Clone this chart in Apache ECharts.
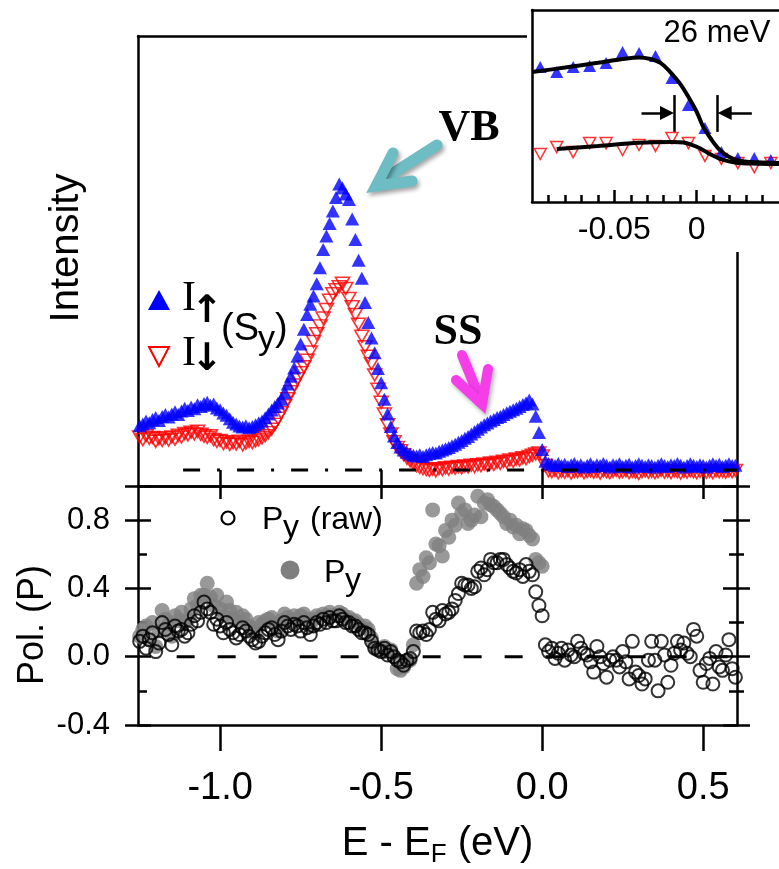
<!DOCTYPE html>
<html>
<head>
<meta charset="utf-8">
<script src="https://cdn.jsdelivr.net/npm/echarts@6/dist/echarts.min.js"></script>
<style>
  html, body { margin: 0; padding: 0; background: #ffffff; }
  #chart { width: 779px; height: 869px; }
</style>
</head>
<body>
<div id="chart"></div>
<script>
// ---- energy grid of the spin-resolved spectra (eV, relative to E_F) ----
const E_START = -1.25;
const E_STEP = 0.01;

// spin-up intensity I↑ (arb. units), one value per grid point
const intensityUp = [
  10.2, 10.6, 11.3, 10.9, 11.6, 12.1, 11.4, 12.3, 12.8, 12.2,
  12.9, 13.4, 12.8, 13.6, 14.2, 13.7, 14.5, 14.1, 15.0, 14.6,
  15.3, 15.6, 14.9, 15.2, 14.3, 13.9, 13.1, 12.6, 11.8, 11.0,
  10.6, 10.1, 9.9, 10.2, 9.7, 10.0, 10.4, 10.9, 11.3, 12.0,
  12.9, 13.8, 14.6, 15.4, 16.3, 17.8, 19.8, 21.6, 23.5, 26.2,
  29.0, 32.4, 35.8, 38.2, 40.1, 42.9, 46.6, 50.8, 53.9, 56.8,
  59.7, 62.8, 65.9, 65.0, 63.6, 62.3, 57.8, 53.1, 48.3, 44.2,
  38.6, 34.0, 30.4, 27.0, 23.4, 20.1, 16.3, 12.9, 10.0, 7.8,
  6.3, 5.3, 4.6, 4.1, 3.7, 3.4, 3.2, 3.5, 3.1, 3.5,
  3.8, 4.0, 3.9, 4.3, 4.6, 4.9, 5.2, 5.6, 5.9, 6.4,
  6.8, 7.3, 7.7, 8.3, 8.8, 9.4, 9.9, 10.4, 10.8, 11.3,
  11.6, 12.1, 12.3, 12.8, 13.2, 13.5, 13.9, 14.2, 14.6, 15.1,
  15.5, 16.1, 15.2, 12.4, 8.6, 4.7, 2.0, 1.5, 1.3, 1.0,
  1.5, 1.0, 1.3, 0.8, 1.2, 1.5, 0.9, 1.2, 0.7, 1.1,
  1.4, 0.8, 1.2, 1.0, 1.5, 1.1, 0.7, 1.2, 1.0, 1.4,
  0.8, 1.1, 1.3, 0.7, 1.0, 1.4, 1.1, 0.8, 1.2, 1.0,
  0.7, 1.1, 1.4, 1.0, 0.8, 1.2, 1.0, 1.5, 1.1, 0.7,
  1.0, 1.4, 1.1, 0.8, 1.2, 1.0, 0.7, 1.1, 1.4, 1.0,
  1.3, 0.8, 1.1, 1.4, 1.0, 1.1
];

// spin-down intensity I↓ (arb. units)
const intensityDown = [
  7.6, 7.0, 7.9, 7.3, 7.5, 6.6, 7.2, 6.8, 7.4, 6.9,
  7.6, 7.1, 8.0, 7.6, 8.4, 8.1, 8.7, 8.3, 8.9, 8.2,
  7.8, 7.5, 7.9, 7.0, 6.6, 6.8, 6.1, 6.5, 5.9, 6.3,
  6.0, 6.6, 5.8, 6.2, 6.6, 6.3, 6.7, 7.0, 7.4, 7.9,
  8.6, 9.4, 10.5, 11.9, 13.2, 14.8, 16.4, 18.0, 19.6, 21.0,
  22.4, 23.8, 25.3, 27.2, 29.6, 31.4, 33.2, 35.0, 37.0, 39.1,
  40.6, 41.5, 42.2, 43.0, 41.8, 39.5, 37.6, 35.8, 33.6, 30.8,
  28.4, 26.2, 24.5, 21.9, 18.6, 15.6, 12.9, 10.4, 8.3, 6.5,
  5.2, 4.4, 3.5, 2.7, 2.1, 1.5, 1.0, 0.6, 0.3, 0.1,
  -0.1, 0.2, -0.2, 0.3, 0.1, 0.5, 0.2, 0.6, 0.4, 0.8,
  0.5, 0.9, 0.7, 1.1, 0.8, 1.2, 1.0, 1.4, 1.1, 1.6,
  1.3, 1.8, 1.5, 2.0, 1.8, 2.3, 2.0, 2.5, 2.3, 2.8,
  2.6, 3.1, 3.4, 3.7, 3.9, 3.2, 1.0, -0.2, -0.4, -0.1,
  -0.6, -0.3, -0.5, -0.2, -0.7, -0.3, -0.4, -0.1, -0.6, -0.4,
  -0.2, -0.5, -0.3, -0.7, -0.2, -0.4, -0.6, -0.3, -0.1, -0.5,
  -0.4, -0.2, -0.6, -0.3, -0.5, -0.8, -0.4, -0.2, -0.5, -0.3,
  -0.6, -0.4, -0.1, -0.5, -0.3, -0.6, -0.2, -0.4, -0.7, -0.3,
  -0.5, -0.2, -0.4, -0.6, -0.3, -0.1, -0.5, -0.3, -0.6, -0.2,
  -0.4, -0.3, -0.5, -0.2, -0.4, -0.1
];

// spin polarization P_y (raw), same energy grid
const polRaw = [
  0.09, 0.12, 0.05, 0.10, 0.14, 0.03, 0.08, 0.20, 0.16, 0.13,
  0.07, 0.18, 0.15, 0.16, 0.12, 0.14, 0.19, 0.24, 0.21, 0.26,
  0.32, 0.28, 0.26, 0.19, 0.22, 0.18, 0.14, 0.20, 0.16, 0.14,
  0.11, 0.13, 0.17, 0.15, 0.12, 0.10, 0.08, 0.09, 0.12, 0.14,
  0.16, 0.17, 0.13, 0.10, 0.15, 0.20, 0.18, 0.16, 0.19, 0.18,
  0.15, 0.20, 0.17, 0.13, 0.18, 0.20, 0.19, 0.22, 0.20, 0.23,
  0.21, 0.21, 0.24, 0.22, 0.20, 0.20, 0.18, 0.18, 0.16, 0.14,
  0.14, 0.13, 0.09, 0.05, 0.04, 0.03, 0.05, 0.01, 0.03, 0.00,
  -0.02, -0.03, -0.05, -0.02, -0.01, 0.03, 0.15, 0.14, 0.15, 0.13,
  0.16, 0.26, 0.22, 0.21, 0.27, 0.25, 0.26, 0.28, 0.33, 0.37,
  0.43, 0.42, 0.42, 0.40, 0.41, 0.50, 0.52, 0.48, 0.51, 0.57,
  0.55, 0.55, 0.57, 0.57, 0.54, 0.52, 0.50, 0.49, 0.51, 0.47,
  0.54, 0.50, 0.48, 0.38, 0.30, 0.24, 0.07, 0.03, 0.05, -0.01,
  0.02, 0.05, -0.02, 0.04, 0.01, 0.00, 0.09, 0.05, 0.02, 0.01,
  -0.03, -0.09, 0.06, 0.00, -0.04, -0.12, -0.02, 0.00, -0.02, -0.06,
  0.03, -0.03, -0.13, 0.09, -0.09, -0.11, -0.16, -0.13, -0.02, 0.09,
  -0.02, -0.20, 0.09, 0.01, -0.15, -0.05, 0.02, 0.09, 0.04, 0.08,
  0.02, 0.00, 0.16, 0.12, -0.08, -0.15, -0.04, -0.01, -0.16, 0.03,
  -0.06, -0.08, 0.01, 0.10, -0.07, -0.12
];

// corrected spin polarization P_y, grid from E_START up to E_F
const polCorr = [
  0.12, 0.16, 0.18, 0.10, 0.20, 0.06, 0.15, 0.27, 0.22, 0.19,
  0.12, 0.24, 0.21, 0.26, 0.20, 0.22, 0.28, 0.34, 0.30, 0.36,
  0.36, 0.43, 0.35, 0.30, 0.36, 0.28, 0.24, 0.32, 0.27, 0.22,
  0.26, 0.20, 0.24, 0.22, 0.18, 0.16, 0.14, 0.20, 0.19, 0.21,
  0.22, 0.23, 0.19, 0.15, 0.21, 0.25, 0.23, 0.21, 0.24, 0.22,
  0.24, 0.25, 0.22, 0.18, 0.22, 0.24, 0.23, 0.25, 0.24, 0.26,
  0.24, 0.24, 0.26, 0.25, 0.23, 0.23, 0.21, 0.21, 0.19, 0.17,
  0.18, 0.16, 0.11, 0.06, 0.05, 0.04, 0.06, 0.03, 0.04, 0.00,
  -0.07, -0.08, -0.06, -0.03, -0.02, 0.07, 0.43, 0.51, 0.47, 0.58,
  0.55, 0.86, 0.66, 0.65, 0.59, 0.74, 0.70, 0.80, 0.77, 0.90,
  0.84, 0.86, 0.78, 0.80, 0.83, 0.94, 0.82, 0.90, 0.92, 0.89,
  0.88, 0.86, 0.84, 0.82, 0.78, 0.80, 0.76, 0.77, 0.72, 0.75,
  0.74, 0.71, 0.69, 0.57, 0.55, 0.53
];

// Fermi-edge close-up (inset)
const insetE = [-0.095, -0.085, -0.075, -0.065, -0.055, -0.045, -0.035, -0.025,
                -0.015, -0.005, 0.005, 0.015, 0.025, 0.035, 0.045];
const insetUp = [70.3, 67.7, 70.3, 70.8, 72.4, 78.1, 77.6, 76.0, 64.6, 50.5, 38.5, 26.0, 22.9, 22.9, 21.9];
const insetDown = [25.0, 28.6, 26.0, 30.7, 30.7, 27.1, 29.7, 29.2, 33.3, 30.7, 24.0, 22.4, 20.3, 18.2, 20.3];
const fitUpE = [-0.100, -0.080, -0.060, -0.045, -0.035, -0.028, -0.022, -0.016, -0.010,
                -0.005, 0.000, 0.004, 0.009, 0.014, 0.019, 0.024, 0.032, 0.050];
const fitUp = [67.7, 70.0, 72.5, 74.5, 75.3, 74.5, 72.5, 67.7, 61.5,
               54.7, 47.0, 39.1, 32.5, 27.1, 23.8, 21.9, 20.8, 20.3];
const fitDownE = [-0.085, -0.060, -0.035, -0.015, -0.008, -0.003, 0.002, 0.008, 0.016, 0.024, 0.034, 0.050];
const fitDown = [27.6, 29.2, 30.9, 31.3, 31.0, 29.8, 28.0, 25.0, 21.9, 20.5, 20.0, 19.8];

// edge width markers: 26 meV between the two bars
const edgeBars = [-0.0135, 0.0125];

// tick values
const energyTicks = [-1.0, -0.5, 0.0, 0.5];
const polMajor = [-0.4, 0.0, 0.4, 0.8, 1.0];
const polLabels = [-0.4, 0.0, 0.4, 0.8];
const polMinor = [-0.2, 0.2, 0.6];
const insetMajor = [-0.05, 0];
const insetMinor = [-0.09, -0.08, -0.07, -0.06, -0.04, -0.03, -0.02, -0.01, 0.01, 0.02, 0.03, 0.04];

// reference lines
const baselineSpan = [-1.115, 0.605];
const zeroPolSpan = [-1.135, 0.605];

const onGrid = (vals) => vals.map((v, i) => [+(E_START + i * E_STEP).toFixed(2), v]);
const zipXY = (xs, ys) => xs.map((x, i) => [x, ys[i]]);

const FONT = '"Liberation Sans", Arial, Helvetica, sans-serif';
const SERIF = '"Liberation Serif", "Times New Roman", serif';
const BLACK = '#000000';
const LW = 2.5;

function axis(opts) {
  const a = {
    type: 'value',
    gridIndex: opts.grid,
    position: opts.position,
    min: opts.min,
    max: opts.max,
    offset: 0,
    z: opts.z || 0,
    axisLine: { show: !!opts.line, onZero: false, lineStyle: { color: BLACK, width: LW } },
    axisTick: { show: false },
    axisLabel: { show: false },
    splitLine: { show: false },
    minorTick: { show: false },
    minorSplitLine: { show: false }
  };
  if (opts.ticks) {
    a.axisTick = {
      show: true, inside: !!opts.inside, length: opts.tickLen,
      customValues: opts.ticks, lineStyle: { color: BLACK, width: LW }
    };
  }
  if (opts.labels) {
    a.axisLabel = {
      show: true, customValues: opts.labels, fontSize: opts.fontSize,
      fontFamily: FONT, color: BLACK, margin: opts.margin, formatter: opts.formatter
    };
  }
  return a;
}

const fmt1 = (v) => v.toFixed(1);
const fmtInset = (v) => (Math.abs(v) < 1e-9 ? '0' : v.toFixed(2));

const xAxes = [
  // 0: upper panel, bottom edge (ticks point up)
  axis({ grid: 0, position: 'bottom', min: -1.255, max: 0.605, line: true, ticks: energyTicks, inside: true, tickLen: 16 }),
  // 1: upper panel, top edge
  axis({ grid: 0, position: 'top', min: -1.255, max: 0.605, line: true }),
  // 2: polarization panel, bottom energy axis
  Object.assign(axis({ grid: 1, position: 'bottom', min: -1.255, max: 0.605, line: true, ticks: energyTicks,
    inside: false, tickLen: 26, labels: energyTicks, fontSize: 38, margin: 45, formatter: fmt1 }), {
    name: '{m|E - E}{s|F}{m| (eV)}',
    nameLocation: 'middle',
    nameGap: 95,
    nameTextStyle: {
      color: BLACK,
      rich: {
        m: { fontSize: 40, fontFamily: FONT, color: BLACK },
        s: { fontSize: 26, fontFamily: FONT, color: BLACK, padding: [22, 0, 0, 0] }
      }
    }
  }),
  // 3: polarization panel, top edge (ticks point down)
  axis({ grid: 1, position: 'top', min: -1.255, max: 0.605, line: true, ticks: energyTicks, inside: true, tickLen: 13 }),
  // 4: inset bottom, major ticks and labels
  axis({ grid: 2, position: 'bottom', min: -0.1, max: 0.05, line: true, ticks: insetMajor, inside: true, tickLen: 12,
    labels: insetMajor, fontSize: 32, margin: 12, formatter: fmtInset, z: 4 }),
  // 5: inset bottom, minor ticks
  axis({ grid: 2, position: 'bottom', min: -0.1, max: 0.05, ticks: insetMinor, inside: true, tickLen: 7, z: 4 }),
  // 6: inset top edge
  axis({ grid: 2, position: 'top', min: -0.1, max: 0.05, line: true, z: 4 })
];

const yAxes = [
  // 0,1: upper panel frame (no ticks)
  axis({ grid: 0, position: 'left', min: -3.7, max: 100, line: true }),
  axis({ grid: 0, position: 'right', min: -3.7, max: 100, line: true }),
  // 2-4: polarization, left side
  axis({ grid: 1, position: 'left', min: -0.4, max: 1.0, line: true, ticks: polMajor, inside: false, tickLen: 13,
    labels: polLabels, fontSize: 31, margin: 28, formatter: fmt1 }),
  axis({ grid: 1, position: 'left', min: -0.4, max: 1.0, ticks: polMajor, inside: true, tickLen: 13 }),
  axis({ grid: 1, position: 'left', min: -0.4, max: 1.0, ticks: polMinor, inside: true, tickLen: 9 }),
  // 5-8: polarization, right side
  axis({ grid: 1, position: 'right', min: -0.4, max: 1.0, line: true, ticks: polMajor, inside: false, tickLen: 13 }),
  axis({ grid: 1, position: 'right', min: -0.4, max: 1.0, ticks: polMajor, inside: true, tickLen: 14 }),
  axis({ grid: 1, position: 'right', min: -0.4, max: 1.0, ticks: polMinor, inside: false, tickLen: 7 }),
  axis({ grid: 1, position: 'right', min: -0.4, max: 1.0, ticks: polMinor, inside: true, tickLen: 8 }),
  // 9: inset left edge
  axis({ grid: 2, position: 'left', min: 0, max: 100, line: true, z: 4 })
];

const series = [
  {
    name: 'I↓', type: 'scatter', xAxisIndex: 0, yAxisIndex: 0, z: 2,
    data: onGrid(intensityDown),
    symbol: 'triangle', symbolRotate: 180, symbolSize: [14, 12],
    itemStyle: { color: 'rgba(0,0,0,0)', borderColor: '#ff0000', borderWidth: 1.6 }
  },
  {
    name: 'I↑', type: 'scatter', xAxisIndex: 0, yAxisIndex: 0, z: 3,
    data: onGrid(intensityUp),
    symbol: 'triangle', symbolSize: [14, 13],
    itemStyle: { color: '#0000ff' }
  },
  {
    name: 'baseline', type: 'line', xAxisIndex: 0, yAxisIndex: 0, z: 4,
    data: [[baselineSpan[0], 0], [baselineSpan[1], 0]], symbol: 'none',
    lineStyle: { color: BLACK, width: 3, type: [17, 17, 3, 17] }
  },
  {
    name: 'zero', type: 'line', xAxisIndex: 2, yAxisIndex: 2, z: 1,
    data: [[zeroPolSpan[0], 0], [zeroPolSpan[1], 0]], symbol: 'none',
    lineStyle: { color: BLACK, width: 3, type: [18, 23] }
  },
  {
    name: 'Py', type: 'scatter', xAxisIndex: 2, yAxisIndex: 2, z: 2,
    data: onGrid(polCorr), symbol: 'circle', symbolSize: 15,
    itemStyle: { color: '#7f7f7f' }
  },
  {
    name: 'Py (raw)', type: 'scatter', xAxisIndex: 2, yAxisIndex: 2, z: 3,
    data: onGrid(polRaw), symbol: 'circle', symbolSize: 13,
    itemStyle: { color: 'rgba(0,0,0,0)', borderColor: BLACK, borderWidth: 2 }
  },
  {
    name: 'inset I↓', type: 'scatter', xAxisIndex: 4, yAxisIndex: 9, z: 5,
    data: zipXY(insetE, insetDown), symbol: 'triangle', symbolRotate: 180, symbolSize: [12, 11],
    itemStyle: { color: 'rgba(0,0,0,0)', borderColor: '#ff0000', borderWidth: 1.5 }
  },
  {
    name: 'inset I↑', type: 'scatter', xAxisIndex: 4, yAxisIndex: 9, z: 5,
    data: zipXY(insetE, insetUp), symbol: 'triangle', symbolSize: [13, 12],
    itemStyle: { color: '#0000ff' }
  },
  {
    name: 'fit ↑', type: 'line', xAxisIndex: 4, yAxisIndex: 9, z: 6,
    data: zipXY(fitUpE, fitUp), symbol: 'none', smooth: 0.35,
    lineStyle: { color: BLACK, width: 4 }
  },
  {
    name: 'fit ↓', type: 'line', xAxisIndex: 4, yAxisIndex: 9, z: 6,
    data: zipXY(fitDownE, fitDown), symbol: 'none', smooth: 0.35,
    lineStyle: { color: BLACK, width: 4 },
    markLine: {
      silent: true, animation: false,
      symbol: ['none', 'triangle'], symbolSize: 14,
      label: { show: false },
      lineStyle: { color: BLACK, width: 2.5, type: 'solid' },
      emphasis: { disabled: true },
      data: [
        [{ coord: [-0.0335, 46.4] }, { coord: [-0.018, 46.4] }],
        [{ coord: [0.0335, 46.4] }, { coord: [0.017, 46.4] }],
        [{ coord: [edgeBars[0], 36.5], symbol: 'none' }, { coord: [edgeBars[0], 55.7], symbol: 'none' }],
        [{ coord: [edgeBars[1], 36.5], symbol: 'none' }, { coord: [edgeBars[1], 55.7], symbol: 'none' }]
      ]
    }
  }
];

function txt(x, y, text, font, align, extra) {
  return Object.assign({
    type: 'text', x: x, y: y, z: 10,
    style: { text: text, font: font, fill: BLACK, align: align || 'left', verticalAlign: 'middle' }
  }, extra || {});
}

const graphics = [
  // opaque box behind the inset (hides the main frame under it)
  { type: 'rect', z: 3, shape: { x: 527, y: 0, width: 260, height: 252 }, style: { fill: '#ffffff' } },
  txt(717, 33, '26 meV', '31px ' + FONT, 'center'),
  // axis titles
  txt(67, 248, 'Intensity', '40px ' + FONT, 'center', { rotation: Math.PI / 2 }),
  txt(33, 625, 'Pol. (P)', '36px ' + FONT, 'center', { rotation: Math.PI / 2 }),
  // band labels
  txt(469, 129, 'VB', 'bold 44px ' + SERIF, 'center'),
  txt(458, 333, 'SS', 'bold 44px ' + SERIF, 'center'),
  // VB arrow
  {
    type: 'group', z: 9, children: [
      { type: 'polyline', shape: { points: [[437, 145], [381, 181]] },
        style: { stroke: '#6fbdc4', lineWidth: 11, lineCap: 'round', fill: null,
          shadowBlur: 4, shadowColor: 'rgba(0,0,0,0.35)', shadowOffsetX: 2, shadowOffsetY: 3 } },
      { type: 'polyline', shape: { points: [[393, 153], [376, 186], [412, 181]] },
        style: { stroke: '#6fbdc4', lineWidth: 11, lineCap: 'round', lineJoin: 'miter', fill: null,
          shadowBlur: 4, shadowColor: 'rgba(0,0,0,0.35)', shadowOffsetX: 2, shadowOffsetY: 3 } }
    ]
  },
  // SS arrow
  {
    type: 'group', z: 9, children: [
      { type: 'polyline', shape: { points: [[462, 355], [480, 399]] },
        style: { stroke: '#f53eea', lineWidth: 10, lineCap: 'round', fill: null,
          shadowBlur: 4, shadowColor: 'rgba(0,0,0,0.3)', shadowOffsetX: 2, shadowOffsetY: 3 } },
      { type: 'polyline', shape: { points: [[456, 380], [482, 404], [488, 369]] },
        style: { stroke: '#f53eea', lineWidth: 10, lineCap: 'round', lineJoin: 'miter', fill: null,
          shadowBlur: 4, shadowColor: 'rgba(0,0,0,0.3)', shadowOffsetX: 2, shadowOffsetY: 3 } }
    ]
  },
  // intensity legend
  { type: 'polygon', z: 10, shape: { points: [[148, 310], [170, 310], [159, 290]] }, style: { fill: '#0000ff' } },
  { type: 'polygon', z: 10, shape: { points: [[149, 347], [169, 347], [159, 366]] },
    style: { fill: null, stroke: '#ff0000', lineWidth: 2 } },
  txt(182, 299, 'I', '42px ' + SERIF, 'left'),
  txt(207, 312, '↑', 'bold 38px "DejaVu Sans", sans-serif', 'center'),
  txt(182, 354, 'I', '42px ' + SERIF, 'left'),
  txt(207, 360, '↓', 'bold 38px "DejaVu Sans", sans-serif', 'center'),
  txt(221, 330, '(S', '38px ' + FONT, 'left'),
  txt(258, 340, 'y', '34px ' + FONT, 'left'),
  txt(275, 330, ')', '38px ' + FONT, 'left'),
  // polarization legend
  { type: 'circle', z: 10, shape: { cx: 228, cy: 518, r: 6.5 }, style: { fill: null, stroke: BLACK, lineWidth: 2.2 } },
  txt(262, 520, 'P', '32px ' + FONT, 'left'),
  txt(283, 528, 'y', '32px ' + FONT, 'left'),
  txt(310, 520, '(raw)', '32px ' + FONT, 'left'),
  { type: 'circle', z: 10, shape: { cx: 290, cy: 570, r: 9.5 }, style: { fill: '#7f7f7f' } },
  txt(324, 573, 'P', '32px ' + FONT, 'left'),
  txt(345, 581, 'y', '32px ' + FONT, 'left')
];

const chart = echarts.init(document.getElementById('chart'), null, { renderer: 'canvas' });
chart.setOption({
  animation: false,
  backgroundColor: '#ffffff',
  textStyle: { fontFamily: FONT, color: BLACK },
  grid: [
    { left: 138, top: 36, width: 599, height: 450 },
    { left: 138, top: 486, width: 599, height: 241 },
    { left: 532, top: 10, width: 255, height: 192 }
  ],
  xAxis: xAxes,
  yAxis: yAxes,
  series: series,
  graphic: { elements: graphics }
});
</script>
</body>
</html>
